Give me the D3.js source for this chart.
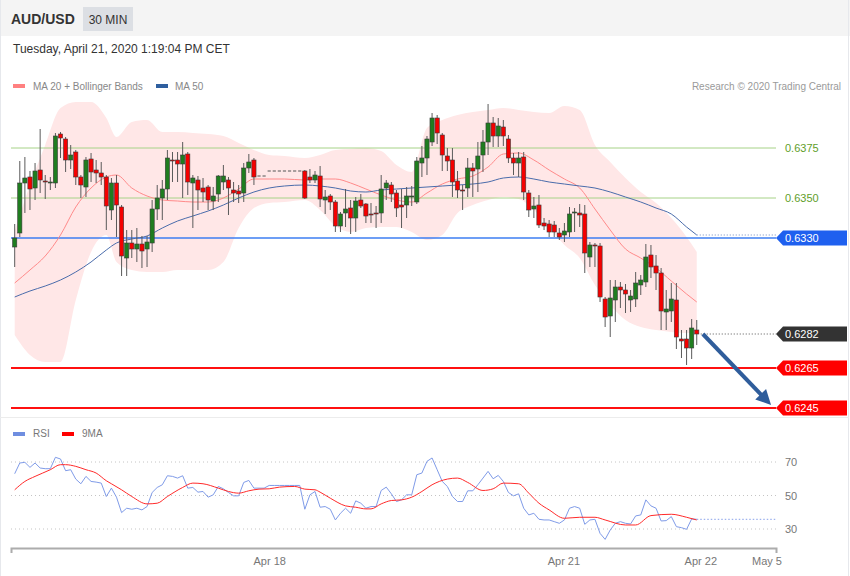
<!DOCTYPE html>
<html><head><meta charset="utf-8">
<script src="https://cdn.jsdelivr.net/npm/d3@7"></script>
<style>body{margin:0;background:#fff} svg{display:block;font-family:"Liberation Sans",Arial,sans-serif}</style>
</head><body><svg id="c" width="850" height="576"></svg>
<script>
// ---------- DATA ----------
const open = [.63255,.63325,.63575,.63605,.6355,.6364,.63585,.6358,.63575,.6382,.63795,.6369,.6373,.63605,.63555,.63695,.6364,.63625,.63605,.6344,.63575,.63455,.632,.63275,.63245,.6327,.63245,.63275,.63445,.635,.63545,.6369,.6369,.6367,.6372,.63575,.6359,.6355,.63555,.63485,.6352,.6358,.6359,.6354,.63535,.63525,.6365,.6369,
 .6361,.6361,.63635,.63635,.63635,.63635,.63635,.63635,.63635,
 .63635,.63605,.6359,.6361,.6349,.6351,.6348,.6336,.63425,.6345,.634,.6349,.6347,.6342,.63425,.63425,.6355,.63565,.63525,.63465,.63465,.63505,.6348,.63675,.637,.6378,.639,.63815,.6371,.6369,.63585,.6354,.6355,.6365,.63645,.63715,.6378,.63875,.6381,.63855,.63795,.637,.63675,.63705,.63525,.63445,.63465,.63375,.6337,.63365,.63325,.63315,.6333,.63425,.63425,.6342,.63205,.63265,.6326,.62995,.6291,.6299,.63055,.6304,.6299,.62995,.63065,.6308,.63215,.6316,.63125,.6293,.62935,.6299,.62795,.62795,.6275,.6284];
const high = [.6337,.63685,.63705,.63635,.63675,.63845,.63615,.63605,.63825,.6383,.63805,.63765,.6374,.63615,.63705,.63725,.6369,.6368,.63615,.636,.63615,.63465,.6334,.6334,.6335,.6331,.6331,.6349,.63565,.6359,.6374,.6373,.6373,.6378,.6373,.63615,.6361,.636,.63565,.63555,.63615,.63665,.63605,.6358,.63565,.63675,.6372,.637,
 .6361,.6361,.63635,.63635,.63635,.63635,.63635,.63635,.63635,
 .6364,.63645,.63635,.6366,.6354,.6352,.6349,.6343,.63545,.6349,.63505,.6352,.63475,.63475,.6346,.63615,.6359,.6358,.6354,.63545,.63555,.6356,.63705,.6376,.6381,.63925,.63915,.63825,.6375,.6375,.63635,.63565,.637,.63675,.6378,.6384,.6397,.63905,.639,.6389,.63815,.63725,.6373,.6373,.6354,.63505,.63515,.634,.6339,.63385,.6335,.63375,.63455,.6345,.6347,.63465,.6328,.63275,.63275,.63005,.6309,.6309,.6308,.6307,.6304,.6313,.63115,.6327,.63265,.63215,.6315,.6304,.63075,.63075,.6284,.6284,.62895,.6289];
const low = [.63155,.63305,.63425,.6344,.6349,.63525,.63495,.6354,.6355,.637,.6363,.63645,.63565,.635,.63505,.6358,.63575,.63565,.6334,.6339,.63305,.6311,.6311,.632,.6318,.6315,.63155,.6323,.6339,.6339,.6349,.6358,.6358,.635,.63515,.6335,.6344,.6348,.6344,.6344,.6348,.6354,.63415,.6348,.63475,.6348,.63625,.63565,
 .6361,.6361,.63635,.63635,.63635,.63635,.63635,.63635,.63635,
 .63495,.63575,.63575,.63455,.6342,.6344,.6333,.6333,.63355,.6332,.6333,.6345,.63375,.63375,.6335,.63375,.6349,.6348,.63405,.6335,.634,.6346,.6347,.63605,.63615,.6376,.6377,.63635,.63635,.63505,.635,.6344,.63505,.63505,.6353,.6363,.63715,.63755,.63755,.6376,.63675,.63615,.63605,.6349,.63405,.634,.6335,.6334,.63305,.63305,.6329,.6328,.63305,.6333,.63355,.63125,.63155,.63155,.6298,.62855,.62805,.6288,.6295,.62925,.6293,.62955,.63015,.63055,.631,.6304,.6284,.6284,.6288,.62745,.627,.62665,.62695,.62765];
const close = [.633,.63575,.636,.63545,.63635,.6359,.6358,.6358,.6381,.638,.6369,.63715,.63605,.63565,.6369,.6363,.63625,.63605,.6346,.63575,.63465,.6321,.63275,.63245,.6327,.63235,.6328,.63445,.635,.63545,.637,.63685,.6367,.63715,.6358,.636,.6354,.6353,.6349,.6351,.6361,.6361,.6355,.63525,.6352,.6365,.6368,.63605,
 .6361,.6361,.63635,.63635,.63635,.63635,.63635,.63635,.63635,
 .635,.6359,.63615,.63495,.63505,.6348,.6336,.6342,.63445,.634,.63485,.6346,.6341,.63415,.6342,.63545,.63575,.6352,.6345,.63455,.6351,.6351,.63685,.637,.63795,.639,.63825,.63715,.63685,.6358,.6354,.63535,.6365,.63635,.6371,.6378,.63875,.6381,.6386,.6381,.637,.63675,.637,.6353,.6344,.6346,.63365,.6336,.6333,.6333,.63305,.63335,.6342,.6343,.63415,.63225,.63265,.6326,.63005,.62905,.63,.63055,.6304,.6302,.6301,.63075,.6309,.63205,.63155,.63125,.62935,.62945,.62995,.62805,.62785,.6275,.6285,.6282];

const bandIdx = [0,3,6,9,12,15,18,20,23,26,29,32,35,38,41,44,47,50,53,57,60,63,66,69,72,75,78,81,84,87,90,93,96,99,102,105,108,111,114,117,120,123,126,129,132,134];
const bandUpper = [.63335,.63565,.63765,.6395,.6398,.6398,.639,.63805,.6388,.6389,.6383,.6383,.63825,.6382,.6381,.63775,.6374,.63715,.6371,.637,.63715,.6374,.63745,.6375,.63735,.63665,.6363,.6385,.6389,.63915,.6393,.6394,.6395,.6394,.6393,.63925,.6396,.6394,.63765,.6368,.636,.6353,.63475,.634,.63305,.6323];
const bandLower = [.62815,.62715,.6268,.6268,.6299,.6323,.63315,.6318,.6314,.6313,.6313,.6314,.6314,.6314,.6318,.6335,.6345,.63475,.6348,.6349,.6344,.6336,.6333,.6335,.63355,.63355,.6333,.6329,.63315,.63425,.63465,.6349,.63505,.63495,.6344,.63355,.63265,.632,.63065,.62965,.6289,.62855,.6284,.6283,.62825,.62825];
const ma20 = [.63075,.6314,.6321,.63315,.63455,.6355,.63605,.63615,.6355,.6351,.6349,.63485,.6348,.6348,.635,.63545,.63595,.63595,.63595,.6359,.63595,.63595,.63575,.63545,.63515,.6349,.6348,.63525,.6357,.63595,.6361,.63655,.6372,.63725,.6369,.6364,.63595,.6355,.63445,.6334,.63245,.632,.6315,.63085,.6302,.6298];
const ma50 = [.63005,.63035,.6306,.6309,.6313,.6318,.6324,.63275,.63295,.6331,.6335,.63385,.6341,.63435,.63465,.635,.6353,.6355,.6356,.63565,.6356,.6355,.63535,.6353,.6354,.63545,.6355,.63555,.6356,.63565,.6357,.6358,.636,.63605,.63595,.6358,.6357,.6356,.6355,.6353,.63505,.6348,.6345,.6342,.63355,.63315];

const rsi = [63,69.4,69.8,66.8,69.4,66.4,66,66,72.8,71.8,64.8,65.4,59.8,57,61.4,58.4,58,57.4,49.4,54.4,49,39.8,42.4,41.8,42.4,41.4,43.4,51.8,54.8,56.4,61.8,61.4,60.4,61.8,54.4,54.8,52,52.4,49,50.4,55.4,54,51.8,49.8,49.8,57.8,59,54.4,
 54.4,54.4,56,56,56,56,56,56,56,
 41.8,50.4,52.4,43,43.4,41.8,35.4,39.4,42.4,39.4,46.8,45.4,42.4,43.4,43.4,53,55,51,46.4,47.4,50.4,50.4,62.4,63.4,70.4,72.4,
 65.4,58.4,55.4,49.4,46.4,46.4,52.8,52.8,56.4,60.4,64.4,60,62,58.4,51.8,49.8,51,42.4,38.4,39.4,
 35.8,35.4,35.4,34.4,33.4,35.4,42.4,43.4,42.4,32.8,35.4,35.8,27.4,23.8,29.4,33.4,34.4,33.4,33,37.8,
 38.4,47.4,43.8,42.4,34.8,35,37.4,31.4,30.8,29.8,36,35.8];
const ma9Idx = [0,2,4,7,9,10,12,14,16,18,19,21,23,26,28,30,33,35,37,40,42,44,46,48,50,52,55,57,59,60,62,65,67,69,70,72,74,76,78,80,82,85,87,89,92,94,96,99,101,103,105,108,111,114,116,120,122,125,129,132,134];
const ma9 = [53.4,58.4,61.4,65.4,68.4,68.4,67.4,65.4,63.4,58.8,57,53.4,49.4,45,45.4,49.4,54.8,57.4,57,54.4,52.4,51.4,52.8,53.8,54,55,55.4,53.8,53.4,52,48.4,43.8,43,42,42,45,47,47.4,49,52.4,56.4,59.8,60.4,57.8,53,54,57.4,57,51.4,45.4,41.4,36.4,37,37,35.4,32.4,32.4,38,38.8,37,35.4];

const tickIdx = [50, 107.8, 134.7, 147.7];
const tickLabels = ['Apr 18','Apr 21','Apr 22','May 5'];
const greenLevels = [0.6375, 0.6350];
const blueLevel = 0.6330;
const lastPrice = 0.6282;
const redLevels = [0.6265, 0.6245];
const rsiLevels = [30, 50, 70];
const arrowFrom = [135.2, 0.6282];
const arrowTo = [148.6, 0.62465];

// ---------- CHART ----------
const svg = d3.select('#c');
const W = 850, H = 576;
const FF = '"Liberation Sans",Arial,sans-serif';
const x = d3.scaleLinear().domain([-0.727, 149.57]).range([11, 776]);
const y = d3.scaleLinear().domain([0.6245, 0.6400]).range([408, 98]);
const yr = d3.scaleLinear().domain([30, 70]).range([529, 462]);
const n = open.length;
const candles = d3.range(n).map(i => ({i, o: open[i], h: high[i], l: low[i], c: close[i]}));

// frame & header
svg.append('rect').attr('x',0).attr('y',0).attr('width',W).attr('height',H).attr('fill','#fff');
svg.append('rect').attr('x',0).attr('y',0).attr('width',W).attr('height',36).attr('fill','#f4f4f4');
svg.append('line').attr('x1',0.5).attr('x2',0.5).attr('y1',0).attr('y2',H).attr('stroke','#e6e8ec');
svg.append('line').attr('x1',848.5).attr('x2',848.5).attr('y1',0).attr('y2',H).attr('stroke','#e6e8ec');
svg.append('line').attr('x1',0).attr('x2',849).attr('y1',417.5).attr('y2',417.5).attr('stroke','#ececec');
svg.append('text').attr('x',11).attr('y',24).attr('font-size',14).attr('font-weight','bold').attr('fill','#333').text('AUD/USD');
svg.append('rect').attr('x',83).attr('y',7).attr('width',50).attr('height',24).attr('fill','#dcdfe4');
svg.append('text').attr('x',108).attr('y',24).attr('text-anchor','middle').attr('font-size',12).attr('fill','#333').text('30 MIN');
svg.append('text').attr('x',13).attr('y',53).attr('font-size',12).attr('fill','#333').text('Tuesday, April 21, 2020 1:19:04 PM CET');

// legend
svg.append('rect').attr('x',13).attr('y',84).attr('width',12).attr('height',4).attr('fill','#ff8080');
svg.append('text').attr('x',33).attr('y',90).attr('font-size',10).attr('fill','#888').text('MA 20 + Bollinger Bands');
svg.append('rect').attr('x',156).attr('y',84).attr('width',12).attr('height',4).attr('fill','#2f5f9f');
svg.append('text').attr('x',175).attr('y',90).attr('font-size',10).attr('fill','#888').text('MA 50');
svg.append('text').attr('x',841).attr('y',90).attr('text-anchor','end').attr('font-size',10).attr('fill','#9a9a9a').text('Research \u00a9 2020 Trading Central');

// bollinger band
const band = bandIdx.map((d,k) => ({i:d, u:bandUpper[k], l:bandLower[k], m20:ma20[k], m50:ma50[k]}));
svg.append('path').datum(band)
  .attr('d', d3.area().x(d=>x(d.i)).y0(d=>y(d.l)).y1(d=>y(d.u)).curve(d3.curveMonotoneX))
  .attr('fill','#ffe7e7');

// level lines
const gL = svg.append('g');
greenLevels.forEach(v => gL.append('line').attr('x1',11).attr('x2',776).attr('y1',y(v)).attr('y2',y(v)).attr('stroke','#a6d287').attr('stroke-width',1));
gL.append('line').attr('x1',11).attr('x2',776).attr('y1',y(blueLevel)).attr('y2',y(blueLevel)).attr('stroke','#3d7ef2').attr('stroke-width',1.5);
redLevels.forEach(v => gL.append('line').attr('x1',11).attr('x2',776).attr('y1',y(v)).attr('y2',y(v)).attr('stroke','#ff1010').attr('stroke-width',2));

// moving averages
svg.append('path').datum(band).attr('d', d3.line().x(d=>x(d.i)).y(d=>y(d.m20)).curve(d3.curveMonotoneX))
  .attr('fill','none').attr('stroke','#ff8a8a').attr('stroke-width',1);
svg.append('path').datum(band).attr('d', d3.line().x(d=>x(d.i)).y(d=>y(d.m50)).curve(d3.curveMonotoneX))
  .attr('fill','none').attr('stroke','#4a6cab').attr('stroke-width',1);
const lastI = n - 1;
svg.append('line').attr('x1',x(lastI)).attr('x2',776).attr('y1',y(ma50[ma50.length-1])).attr('y2',y(ma50[ma50.length-1]))
  .attr('stroke','#6d88c0').attr('stroke-width',1).attr('stroke-dasharray','1,2');
svg.append('line').attr('x1',x(lastI)+4).attr('x2',776).attr('y1',y(lastPrice)).attr('y2',y(lastPrice))
  .attr('stroke','#555').attr('stroke-width',1).attr('stroke-dasharray','1,2');

// candles
const bw = 4.2;
const gc = svg.append('g');
candles.forEach(d => {
  const cx = x(d.i);
  if (d.h === d.l) {
    gc.append('line').attr('x1',cx-1.6).attr('x2',cx+1.6).attr('y1',y(d.c)).attr('y2',y(d.c)).attr('stroke','#555').attr('stroke-width',1);
    return;
  }
  gc.append('line').attr('x1',cx).attr('x2',cx).attr('y1',y(d.h)).attr('y2',y(d.l)).attr('stroke','#5a5a5a').attr('stroke-width',1);
  const top = y(Math.max(d.o,d.c)), bot = y(Math.min(d.o,d.c));
  const up = d.c >= d.o;
  gc.append('rect').attr('x',cx-bw/2).attr('y',top).attr('width',bw).attr('height',Math.max(1,bot-top))
    .attr('fill', up ? '#1f7d1f' : '#f40000').attr('stroke','#3b3b3b').attr('stroke-width',0.6);
});

// arrow
const ax0 = x(arrowFrom[0]), ay0 = y(arrowFrom[1]), ax1 = x(arrowTo[0]), ay1 = y(arrowTo[1]);
const ang = Math.atan2(ay1-ay0, ax1-ax0), hl = 15, hw = 7.5;
const bx = ax1 - hl*Math.cos(ang), by = ay1 - hl*Math.sin(ang);
svg.append('line').attr('x1',ax0).attr('y1',ay0).attr('x2',bx+2*Math.cos(ang)).attr('y2',by+2*Math.sin(ang))
  .attr('stroke','#2f5d9b').attr('stroke-width',4);
svg.append('path').attr('d', `M${ax1},${ay1}L${bx+hw*Math.sin(ang)},${by-hw*Math.cos(ang)}L${bx-hw*Math.sin(ang)},${by+hw*Math.cos(ang)}Z`).attr('fill','#2f5d9b');

// right price labels
const fmt = d3.format('.4f');
const gAx = svg.append('g').attr('transform','translate(776,0)')
  .call(d3.axisRight(y).tickValues(greenLevels).tickFormat(fmt).tickSize(0).tickPadding(9));
gAx.select('.domain').remove();
gAx.selectAll('text').attr('fill','#5f9e2a').attr('font-size',11).attr('font-family',FF);
function tag(v, fill) {
  const yy = y(v);
  svg.append('path').attr('d', `M776,${yy}L783,${yy-7.5}H847V${yy+7.5}H783Z`).attr('fill', fill);
  svg.append('text').attr('x',785).attr('y',yy+4).attr('font-size',11).attr('fill','#fff').text(fmt(v));
}
tag(blueLevel, '#1f60ef');
tag(lastPrice, '#333333');
redLevels.forEach(v => tag(v, '#ff0000'));

// RSI panel
svg.append('rect').attr('x',13).attr('y',432).attr('width',12).attr('height',4).attr('fill','#6f8ee0');
svg.append('text').attr('x',33).attr('y',437).attr('font-size',10).attr('fill','#777').text('RSI');
svg.append('rect').attr('x',62).attr('y',432).attr('width',12).attr('height',4).attr('fill','#ff0000');
svg.append('text').attr('x',82).attr('y',437).attr('font-size',10).attr('fill','#777').text('9MA');
rsiLevels.forEach(v => svg.append('line').attr('x1',11).attr('x2',776).attr('y1',yr(v)).attr('y2',yr(v))
  .attr('stroke','#c4c4c4').attr('stroke-width',1).attr('stroke-dasharray','1,3'));
const gR = svg.append('g').attr('transform','translate(776,0)')
  .call(d3.axisRight(yr).tickValues(rsiLevels).tickSize(0).tickPadding(9));
gR.select('.domain').remove();
gR.selectAll('text').attr('fill','#777').attr('font-size',11).attr('font-family',FF);

svg.append('path').datum(rsi).attr('d', d3.line().x((d,i)=>x(i)).y(d=>yr(d)))
  .attr('fill','none').attr('stroke','#7f9be8').attr('stroke-width',1);
const ma9d = ma9Idx.map((d,k)=>({i:d, v:ma9[k]}));
svg.append('path').datum(ma9d).attr('d', d3.line().x(d=>x(d.i)).y(d=>yr(d.v)).curve(d3.curveMonotoneX))
  .attr('fill','none').attr('stroke','#ff2a2a').attr('stroke-width',1);
svg.append('line').attr('x1',x(lastI)).attr('x2',776).attr('y1',yr(rsi[lastI])).attr('y2',yr(rsi[lastI]))
  .attr('stroke','#9fb3ee').attr('stroke-width',1.2).attr('stroke-dasharray','1.5,2');

// x axis
const gX = svg.append('g').attr('transform','translate(0,548)')
  .call(d3.axisBottom(x).tickValues(tickIdx).tickFormat((d,k)=>tickLabels[k]).tickSizeInner(0).tickSizeOuter(5).tickPadding(9));
gX.select('.domain').attr('stroke','#acacac').attr('stroke-width',2);
gX.selectAll('text').attr('fill','#777').attr('font-size',11).attr('font-family',FF);
</script></body></html>
